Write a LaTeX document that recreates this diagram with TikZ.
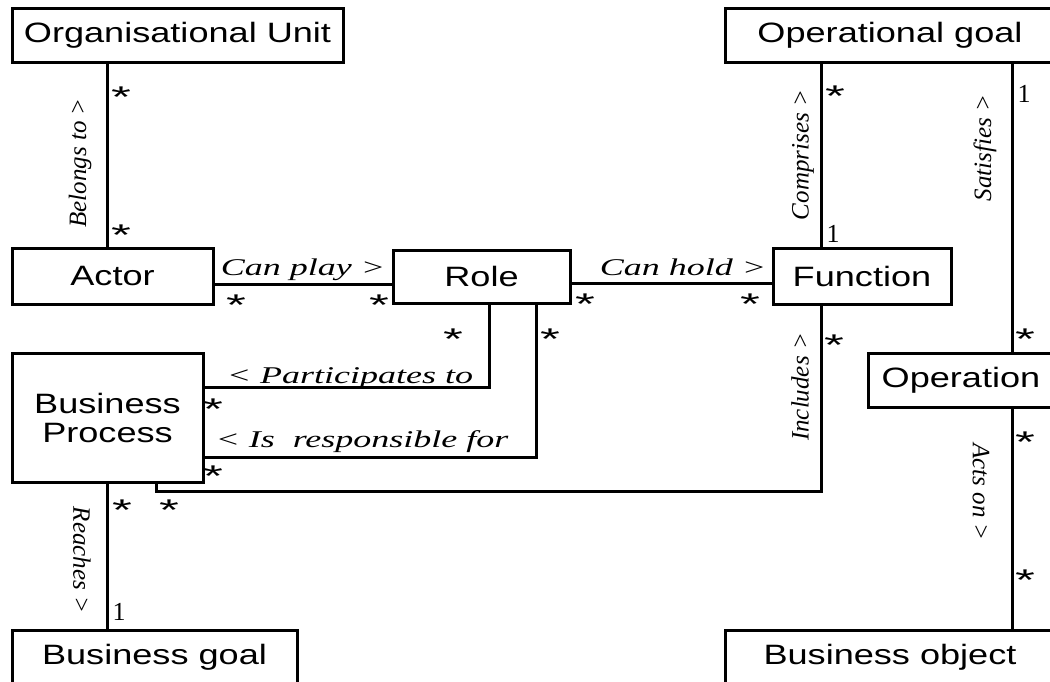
\documentclass[tikz,border=0pt]{standalone}
\usepackage{fontspec}
\setmainfont{Liberation Sans}
\newfontfamily\boxfont{Liberation Sans}[FakeStretch=1.29]
\newfontfamily\hlblfont{Liberation Serif}[FakeStretch=1.5]
\newfontfamily\vlblfont{Liberation Serif}
\newfontfamily\onefont{Liberation Serif}
\newfontfamily\astfont{Liberation Sans}[FakeStretch=1.7]

\tikzset{
  box/.style={draw, line width=3pt, fill=white, inner sep=0pt,
    font=\boxfont\fontsize{28}{29}\selectfont, align=center},
  link/.style={line width=3pt},
  hlabel/.style={anchor=base, inner sep=0pt,
    font=\hlblfont\itshape\fontsize{24}{26}\selectfont},
  vlabel/.style={inner sep=0pt, font=\vlblfont\itshape\fontsize{25}{27}\selectfont},
  many/.style={anchor=base, inner sep=0pt, yshift=-17.2pt,
    font=\astfont\fontsize{30}{30}\selectfont},
  one/.style={anchor=base, inner sep=0pt, yshift=-8.8pt,
    font=\onefont\fontsize{26}{28}\selectfont}
}

\begin{document}
\begin{tikzpicture}[x=1pt, y=-1pt]
\useasboundingbox (0,0) rectangle (1050,681);
\fill[white] (0,0) rectangle (1050,681);
\clip (0,0) rectangle (1050,681);

% classes
\node[box, minimum width=331pt, minimum height=54pt] (orgunit) at (177.5,35) {Organisational Unit};
\node[box, minimum width=330pt, minimum height=54pt] (opgoal) at (890,35) {Operational goal};
\node[box, minimum width=201pt, minimum height=56pt] (actor) at (112.5,276) {Actor};
\node[box, minimum width=177pt, minimum height=53pt] (role) at (481.5,276.5) {Role};
\node[box, minimum width=178pt, minimum height=56pt] (function) at (862,276) {Function};
\node[box, minimum width=191pt, minimum height=129pt] (bp) at (107.5,417.5) {Business\\Process};
\node[box, minimum width=186pt, minimum height=54pt] (operation) at (961,380) {Operation};
\node[box, minimum width=285pt, minimum height=54pt] (bgoal) at (154.5,657) {Business goal};
\node[box, minimum width=330pt, minimum height=54pt] (bobject) at (890,657) {Business object};

% routing points of the associations
\coordinate (belongsX) at (107,0);
\coordinate (playY) at (0,284);
\coordinate (holdY) at (0,283);
\coordinate (compX) at (821,0);
\coordinate (satX) at (1012,0);
\coordinate (partTurn) at (489,387);
\coordinate (respTurn) at (536,457);
\coordinate (inclA) at (821,491);
\coordinate (inclB) at (156,491);

% associations
\draw[link] (orgunit.south -| belongsX) -- (actor.north -| belongsX);
\draw[link] (actor.east |- playY) -- (role.west |- playY);
\draw[link] (role.east |- holdY) -- (function.west |- holdY);
\draw[link] (opgoal.south -| compX) -- (function.north -| compX);
\draw[link] (opgoal.south -| satX) -- (operation.north -| satX);
\draw[link] (operation.south -| satX) -- (bobject.north -| satX);
\draw[link] (role.south -| partTurn) -- (partTurn) -- (bp.east |- partTurn);
\draw[link] (role.south -| respTurn) -- (respTurn) -- (bp.east |- respTurn);
\draw[link] (function.south -| inclA) -- (inclA) -- (inclB) -- (bp.south -| inclB);
\draw[link] (bp.south -| belongsX) -- (bgoal.north -| belongsX);

% association names
\node[hlabel] (lplay) at (303,275) {Can play >};
\node[hlabel] (lhold) at (683,275) {Can hold >};
\node[hlabel] (lpart) at (350,383) {< Participates to};
\node[hlabel] (lresp) at (362,447) {< Is\ \ responsible for};
\node[vlabel, rotate=90] (lbelongs) at (80,163) {Belongs to >};
\node[vlabel, rotate=90] (lcomp) at (803,155) {Comprises >};
\node[vlabel, rotate=90] (lsat) at (985,148) {Satisfies >};
\node[vlabel, rotate=90] (lincl) at (800,387) {Includes >};
\node[vlabel, rotate=-90] (lreach) at (82,560) {Reaches >};
\node[vlabel, rotate=-90] (lacts) at (981,492) {Acts on >};

% multiplicities
\node[many] (m1) at (121,90) {*};
\node[many] (m2) at (121,228) {*};
\node[many] (m3) at (236,298) {*};
\node[many] (m4) at (379,298) {*};
\node[many] (m5) at (585,297) {*};
\node[many] (m6) at (750,297) {*};
\node[many] (m7) at (453,332) {*};
\node[many] (m8) at (550,332) {*};
\node[many] (m9) at (213,402) {*};
\node[many] (m10) at (213,469) {*};
\node[many] (m11) at (835,89) {*};
\node[many] (m12) at (834,338) {*};
\node[many] (m13) at (1025,332) {*};
\node[many] (m14) at (1025,435) {*};
\node[many] (m15) at (1025,573) {*};
\node[many] (m16) at (122,503) {*};
\node[many] (m17) at (169,503) {*};
\node[one] (o1) at (1024,94) {1};
\node[one] (o2) at (833,234) {1};
\node[one] (o3) at (119,612) {1};
\end{tikzpicture}
\end{document}
